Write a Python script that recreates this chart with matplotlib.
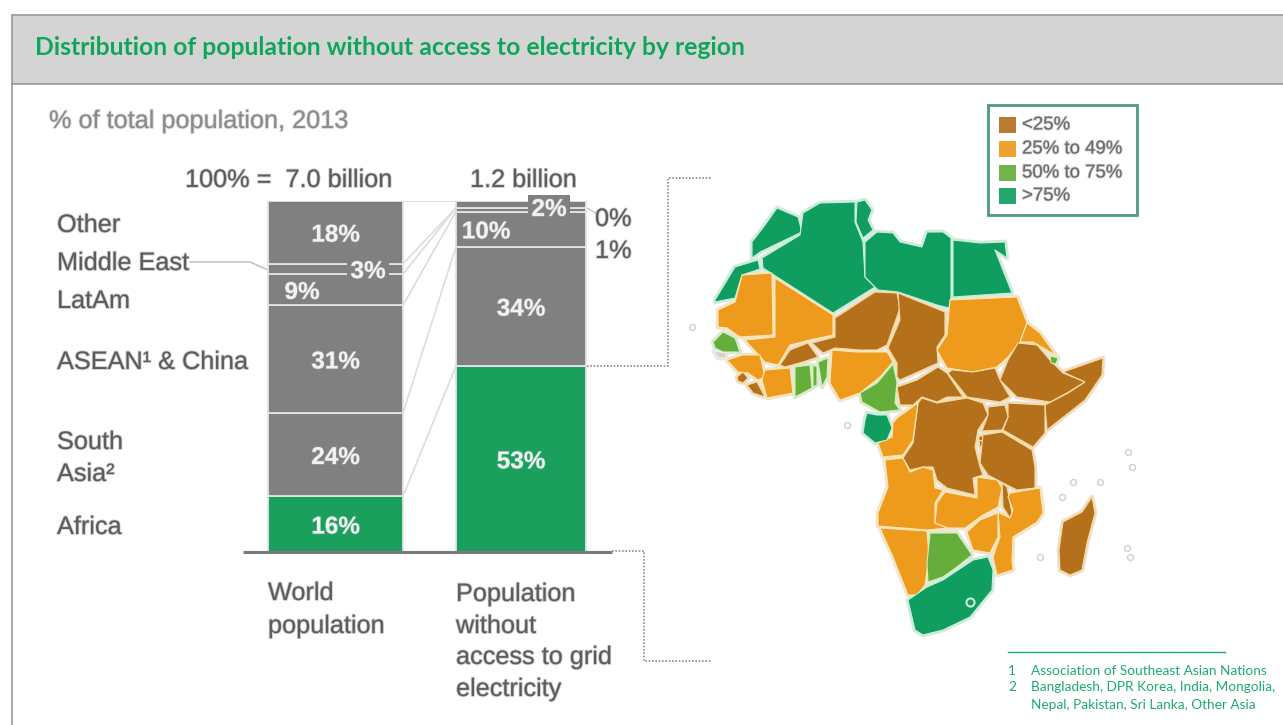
import numpy as np
import matplotlib
matplotlib.use("Agg")
import matplotlib.pyplot as plt
import matplotlib.patheffects as pe
from matplotlib.patches import Polygon, Rectangle


# share of each region, bottom to top
regions = ["Africa", "South Asia", "ASEAN & China", "LatAm", "Middle East", "Other"]
world_share = [16, 24, 31, 9, 3, 18]
no_access_share = [53, 34, 10, 1, 0, 2]
world_labels = ["16%", "24%", "31%", "9%", "3%", "18%"]
no_access_labels = ["53%", "34%", "10%", "", "", "2%"]

legend_labels = ["<25%", "25% to 49%", "50% to 75%", ">75%"]

BROWN = "#B5701C"
ORANGE = "#EE9A1C"
LIGHT_GREEN = "#66AE3C"
GREEN = "#109E60"
BAR_GREEN = "#1A9F5D"
BAR_GREY = "#808080"
TEXT_GREY = "#5c5c5c"
TITLE_GREEN = "#10A65A"

legend_colors = [BROWN, ORANGE, LIGHT_GREEN, GREEN]

# country outlines, traced in figure pixels: (colour, outline)
western_sahara = [(715,300),(735,267),(758,260),(760,269),(742,275),(735,298),(715,302)]
morocco = [(752,242),(765,225),(777,208),(798,217),(802,232),(760,252),(752,258)]
algeria = [(762,258),(800,235),(803,213),(820,203),(855,202),(855,222),(863,242),(865,277),(875,287),(833,313),(763,268)]
tunisia = [(857,202),(865,200),(872,210),(868,220),(873,230),(863,238),(856,222)]
libya = [(865,242),(877,232),(893,233),(900,242),(922,247),(927,232),(943,232),(951,238),(951,297),(949,308),(937,305),(898,292),(878,290),(865,277)]
egypt = [(953,240),(980,243),(1005,242),(1007,258),(995,250),(1012,293),(953,297)]
mauritania = [(718,310),(735,302),(742,275),(772,273),(773,335),(740,337),(727,328),(718,327)]
mali = [(775,278),(833,315),(833,335),(810,340),(790,345),(778,365),(765,362),(745,340),(775,337)]
senegal = [(713,342),(723,332),(735,338),(740,352),(723,352),(715,348)]
guinea_bissau = [(714,351),(726,353),(726,358),(718,358)]
guinea = [(727,360),(743,355),(760,355),(765,377),(758,380),(748,373),(738,372)]
sierra_leone = [(737,377),(743,372),(748,378),(743,383),(738,381)]
liberia = [(747,385),(757,382),(765,397),(753,393)]
ivory_coast = [(765,370),(790,368),(793,393),(767,398),(762,380)]
burkina = [(780,365),(790,350),(808,343),(818,357),(803,362),(785,367)]
ghana = [(795,367),(810,365),(812,388),(795,397)]
togo = [(813,365),(817,367),(817,385),(813,387)]
benin = [(818,362),(828,358),(827,377),(822,387)]
niger = [(835,318),(875,292),(897,293),(900,308),(887,345),(877,350),(860,350),(835,348),(823,353),(812,343),(835,337)]
nigeria = [(832,350),(857,352),(887,352),(893,362),(880,377),(860,393),(840,400),(830,383)]
chad = [(898,293),(945,312),(945,335),(937,347),(938,363),(900,380),(897,377),(897,363),(888,348),(900,320)]
cameroon = [(893,364),(897,382),(895,403),(900,410),(880,412),(862,402),(860,393),(877,383)]
sudan = [(950,300),(1017,297),(1027,323),(1020,342),(1008,357),(997,367),(973,372),(947,368),(937,350),(947,335)]
eritrea = [(1027,323),(1040,333),(1057,357),(1052,353),(1033,342),(1020,342)]
ethiopia = [(1018,343),(1037,345),(1050,360),(1063,373),(1085,382),(1067,393),(1050,402),(1017,397),(1000,380),(1008,360)]
djibouti = [(1050,356),(1058,358),(1056,364),(1051,363)]
somalia = [(1063,372),(1103,358),(1102,375),(1085,400),(1047,430),(1045,405),(1068,393),(1085,382)]
kenya = [(1008,403),(1045,405),(1045,433),(1033,447),(1003,430),(1008,417)]
south_sudan = [(952,370),(973,372),(995,368),(1000,380),(1010,397),(1000,402),(967,397),(948,373)]
car = [(897,387),(917,380),(938,367),(947,373),(963,397),(947,397),(937,402),(922,397),(913,405),(900,405)]
drc = [(918,403),(922,398),(937,403),(967,398),(983,403),(988,415),(978,430),(975,447),(980,467),(983,475),(973,478),(975,495),(947,488),(937,480),(933,467),(923,467),(910,470),(903,458),(913,443)]
uganda = [(988,407),(1005,405),(1008,417),(1002,430),(982,431),(988,415)]
rwanda = [(979,436),(987,436),(986,440),(979,441)]
burundi = [(979,441),(986,440),(986,446),(980,447)]
tanzania = [(983,435),(1002,432),(1032,450),(1035,467),(1035,488),(1017,490),(1003,483),(988,475),(980,463)]
congo = [(897,418),(918,403),(913,440),(903,455),(883,457),(878,443),(892,437),(893,423)]
gabon = [(865,420),(867,413),(877,415),(887,415),(892,428),(887,440),(875,443),(863,433)]
angola = [(885,460),(903,458),(910,472),(923,467),(933,470),(935,488),(943,490),(935,503),(935,523),(948,528),(927,530),(878,526),(878,513),(888,487)]
zambia = [(937,503),(945,492),(977,498),(977,477),(997,480),(1002,488),(998,507),(983,515),(965,528),(948,528),(935,523)]
malawi = [(1002,483),(1007,487),(1012,513),(1010,518),(1003,507)]
mozambique = [(1010,493),(1040,488),(1043,513),(1037,522),(1013,537),(1012,560),(1013,570),(997,575),(993,557),(1000,537),(998,512),(1010,518),(1013,510),(1008,497)]
zimbabwe = [(967,532),(980,520),(998,513),(998,537),(990,553),(973,550)]
namibia = [(880,528),(927,531),(929,557),(925,585),(917,595),(908,595),(893,557)]
botswana = [(930,533),(957,533),(972,555),(957,567),(943,577),(928,582),(927,563)]
south_africa = [(908,600),(927,587),(943,580),(973,560),(988,557),(993,570),(992,590),(970,617),(943,630),(923,635),(915,630)]
madagascar = [(1063,522),(1082,512),(1092,497),(1095,513),(1087,543),(1082,570),(1070,575),(1060,570),(1059,550)]

countries = [
    (GREEN, western_sahara), (GREEN, morocco), (GREEN, algeria), (GREEN, tunisia),
    (GREEN, libya), (GREEN, egypt), (ORANGE, mauritania), (ORANGE, mali),
    (LIGHT_GREEN, senegal), ("#d9d3cc", guinea_bissau), (ORANGE, guinea),
    (BROWN, sierra_leone), (BROWN, liberia), (ORANGE, ivory_coast), (BROWN, burkina),
    (LIGHT_GREEN, ghana), (LIGHT_GREEN, togo), (LIGHT_GREEN, benin), (BROWN, niger),
    (ORANGE, nigeria), (BROWN, chad), (LIGHT_GREEN, cameroon), (ORANGE, sudan),
    (ORANGE, eritrea), (BROWN, ethiopia), (LIGHT_GREEN, djibouti), (BROWN, somalia),
    (BROWN, kenya), (BROWN, south_sudan), (BROWN, car), (BROWN, drc), (BROWN, uganda),
    (BROWN, rwanda), (BROWN, burundi), (BROWN, tanzania), (ORANGE, congo), (GREEN, gabon),
    (ORANGE, angola), (ORANGE, zambia), (BROWN, malawi), (ORANGE, mozambique),
    (ORANGE, zimbabwe), (ORANGE, namibia), (LIGHT_GREEN, botswana), (GREEN, south_africa),
    (BROWN, madagascar),
]

# small islands, only outlined on the map
island_x = [692, 847, 1128, 1132, 1073, 1062, 1100, 1040, 1127, 1130]
island_y = [327, 425, 452, 467, 482, 497, 482, 557, 548, 557]

border_colors = {BROWN: "#F6DCA8", ORANGE: "#FBE6B8", LIGHT_GREEN: "#D6F0C0", GREEN: "#C6F0DA"}

W, H = 1283, 725
fig = plt.figure(figsize=(W / 100, H / 100), dpi=100, facecolor="white")

# canvas in pixels for the header, text and map
ax = fig.add_axes([0, 0, 1, 1])
ax.set_xlim(0, W)
ax.set_ylim(H, 0)
ax.axis("off")

sans = "Liberation Sans"
note_font = "Lato"
body_size = 18.2


def soft(color, width=1.3, alpha=0.3):
    # faint stroke around the letters of the chart text
    return [pe.withStroke(linewidth=width, foreground=color, alpha=alpha)]


def body_text(x, y, label, color=TEXT_GREY, size=body_size):
    ax.text(x, y, label, color=color, fontsize=size, family=sans, va="center", path_effects=soft(color))


# header band
ax.add_patch(Rectangle((12, 15), W, 69, facecolor="#D4D4D4", edgecolor="#999999", lw=1.2))
ax.plot([12, 12], [84, H], color="#999999", lw=1.2)
ax.text(35, 47.5, "Distribution of population without access to electricity by region",
        color=TITLE_GREEN, fontsize=17.8, fontweight="bold", family=note_font, va="center")
body_text(49, 121, "% of total population, 2013", color="#8a8a8a")

# headings over the columns
body_text(185, 180, "100% =  7.0 billion")
body_text(470, 180, "1.2 billion")

row_labels = [("Other", 225), ("Middle East", 263), ("LatAm", 301), ("ASEAN\u00b9 & China", 362),
              ("South", 442), ("Asia\u00b2", 474), ("Africa", 527)]
for label, y in row_labels:
    body_text(57, y, label)

body_text(268, 593, "World")
body_text(268, 626, "population")
for label, y in zip(["Population", "without", "access to grid", "electricity"], [594, 626, 657, 689]):
    body_text(456, y, label)
body_text(595, 219, "0%")
body_text(595, 251, "1%")

# leader lines
ax.plot([190, 250, 268], [262, 262, 270], color="#c4c4c4", lw=1.2)
ax.plot([587, 597], [208, 214], color="#c4c4c4", lw=1.0)
ax.plot([587, 668, 668, 712], [366, 366, 178, 178], color="#8c8c8c", lw=1.2, ls=(0, (1, 1)))
ax.plot([612, 644, 644, 712], [551, 551, 661, 661], color="#8c8c8c", lw=1.2, ls=(0, (1, 1)))

# stacked columns, percentages rescaled so each one fills the axis
bar_ax = fig.add_axes([0, (H - 552) / H, 1, 351 / H])
bar_ax.patch.set_alpha(0)
bar_ax.set_xlim(0, W)
bar_ax.set_ylim(0, 100)
bar_ax.axis("off")

world = np.array(world_share) / sum(world_share) * 100
no_access = np.array(no_access_share) / sum(no_access_share) * 100
world_tops = np.cumsum(world)
no_access_tops = np.cumsum(no_access)

# links between matching segments of the two columns
for left_top, right_top in zip(world_tops, no_access_tops):
    bar_ax.plot([403, 456], [left_top, right_top], color="#dcdcdc", lw=1.2)

columns = [(335.5, 135, world, world_labels, {3: -33.5, 4: 32.5}),
           (521, 130, no_access, no_access_labels, {2: -35, 5: 28})]
for center, width, shares, labels, shifts in columns:
    bottom = 0
    for i, share in enumerate(shares):
        color = BAR_GREEN if i == 0 else BAR_GREY
        bar_ax.bar(center, share, width, bottom=bottom, color=color, edgecolor="#e4e4e4", lw=1.3)
        if labels[i]:
            boxed = labels[i] in ("3%", "2%")
            y = bottom + share / 2 - 0.8
            if labels[i] == "2%":
                y -= 0.6
            bar_ax.text(center + shifts.get(i, 0), y, labels[i], color="#f2f2f2", fontsize=17.5,
                        fontweight="bold", family=sans, ha="center", va="center",
                        path_effects=soft("#f2f2f2", 1.0, 0.25),
                        bbox=dict(fc=BAR_GREY, ec="none", pad=2.5) if boxed else None)
        bottom += share

# base line under the columns, on top of the bar edges
bar_ax.plot([243, 612], [0, 0], color="#7a7a7a", lw=2.2, clip_on=False, solid_capstyle="butt")

# map: grey halo, pale fill for the gaps, then the countries themselves
for color, outline in countries:
    ax.add_patch(Polygon(outline, closed=True, facecolor="none", edgecolor="#e4e4e4", lw=3.4, joinstyle="round"))
for color, outline in countries:
    pale = border_colors.get(color, "#eeeeee")
    ax.add_patch(Polygon(outline, closed=True, facecolor=pale, edgecolor=pale, lw=2.0, joinstyle="round"))
for color, outline in countries:
    ax.add_patch(Polygon(outline, closed=True, facecolor=color,
                         edgecolor=border_colors.get(color, "#eeeeee"), lw=0.8, joinstyle="round"))
ax.scatter([970], [602], s=34, facecolor=GREEN, edgecolor="#C6F0DA", lw=1.5, zorder=4)
ax.scatter(island_x, island_y, s=18, facecolor="white", edgecolor="#cfcfcf", lw=1.0, zorder=4)

# legend box
ax.add_patch(Rectangle((988, 105), 149, 110, facecolor="white", edgecolor="#4E9C7C", lw=2))
for label, color, y in zip(legend_labels, legend_colors, [125, 149, 173, 196]):
    ax.add_patch(Rectangle((999, y - 8), 17, 16, facecolor=color, edgecolor="none", alpha=0.92))
    body_text(1022, y, label, color="#6a6a6a", size=13.4)

# footnotes
note_color = "#1CAB6D"
ax.plot([1008, 1225], [652, 652], color="#15B06C", lw=1.0)
ax.text(1008, 671, "1", color=note_color, fontsize=9.8, family=note_font, va="center")
ax.text(1008, 687, "2", color=note_color, fontsize=9.8, family=note_font, va="center")
ax.text(1031, 671, "Association of Southeast Asian Nations", color=note_color, fontsize=9.8, family=note_font, va="center")
ax.text(1031, 687, "Bangladesh, DPR Korea, India, Mongolia,", color=note_color, fontsize=9.8, family=note_font, va="center")
ax.text(1031, 705, "Nepal, Pakistan, Sri Lanka, Other Asia", color=note_color, fontsize=9.8, family=note_font, va="center")

fig.savefig("out.png", dpi=100)
